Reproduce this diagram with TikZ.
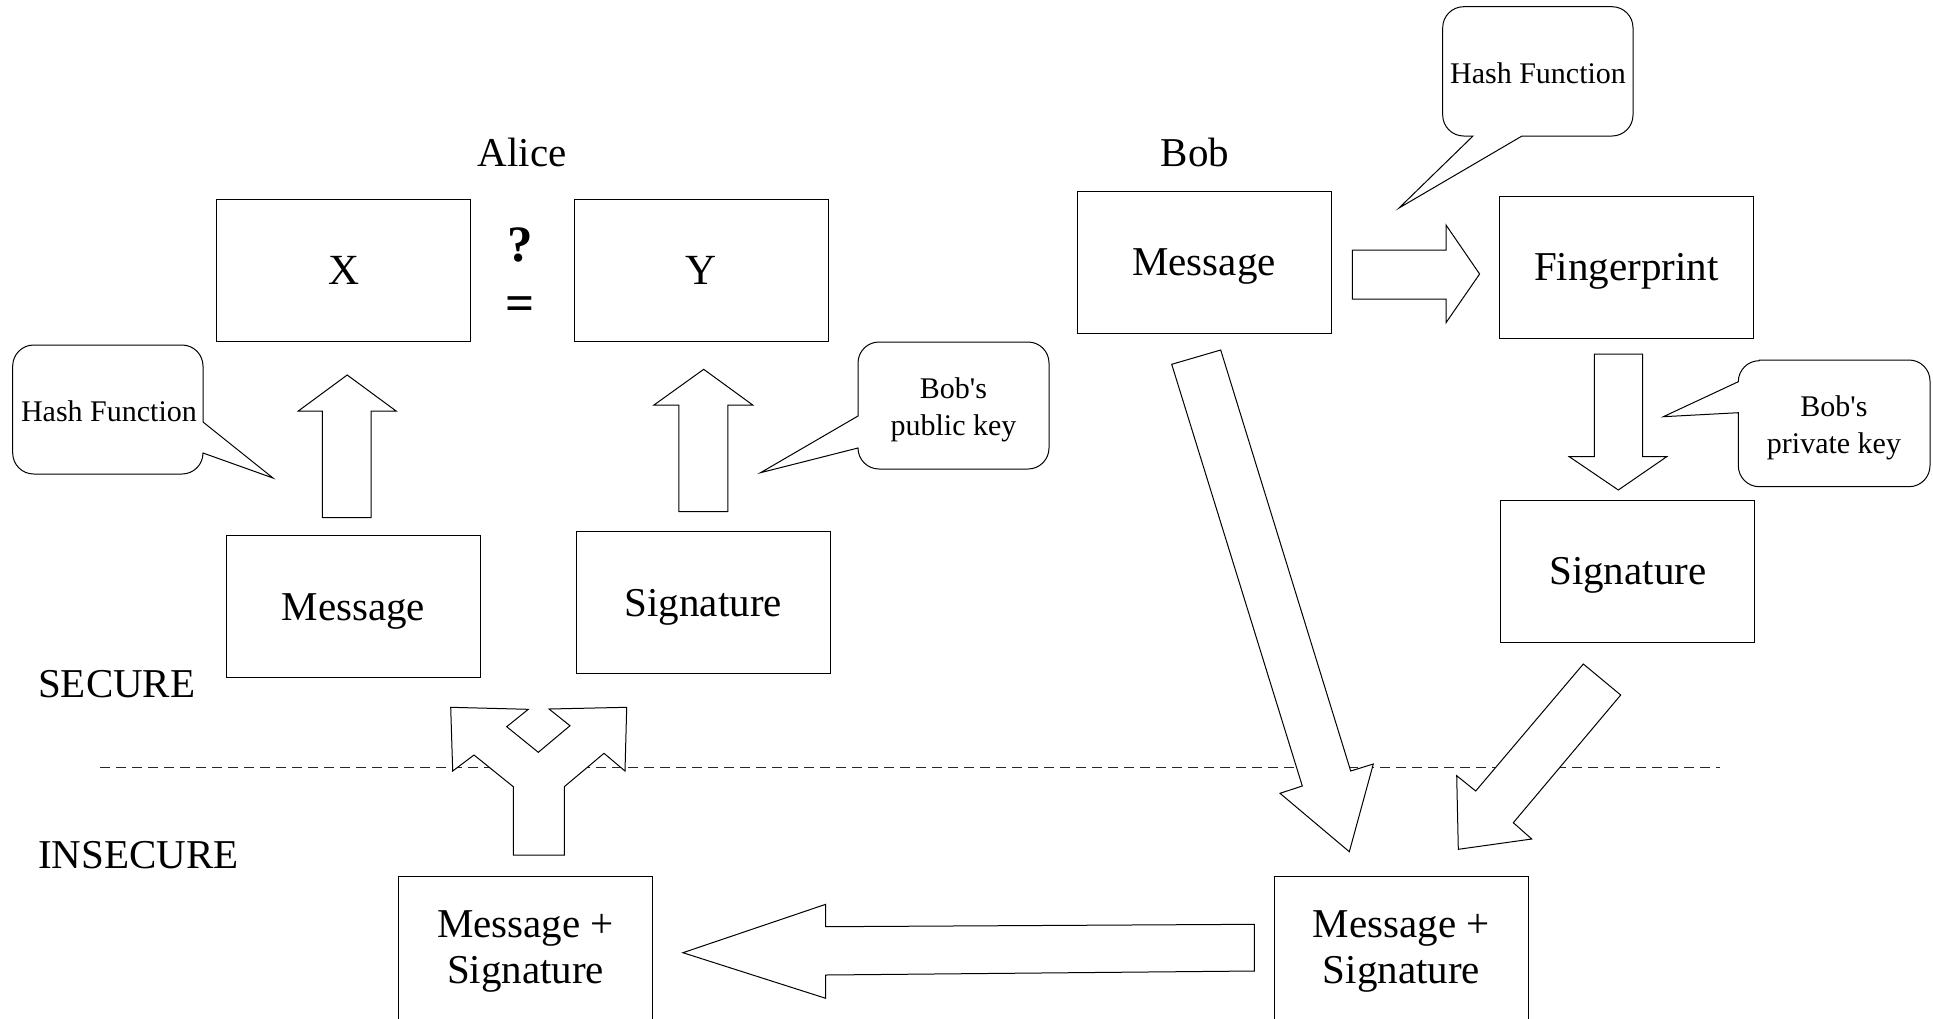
\documentclass[tikz,border=0pt]{standalone}
\usepackage{fontspec}
\newfontfamily\tfont{Liberation Serif}
\newcommand\bigtxt{\tfont\fontsize{41}{46}\selectfont}
\newcommand\xytxt{\tfont\fontsize{43}{48}\selectfont}
\newcommand\smalltxt{\tfont\fontsize{30}{37}\selectfont}
\newcommand\qtxt{\tfont\bfseries\fontsize{51}{56}\selectfont}
\tikzset{
  boxnode/.style={draw=black, line width=1pt, minimum width=254pt, minimum height=142pt, inner sep=0pt, font=\bigtxt, text height=27pt, text depth=0pt},
  boxtwo/.style={draw=black, line width=1pt, minimum width=254pt, minimum height=150pt, inner sep=0pt, font=\bigtxt, align=center},
  lbl/.style={inner sep=0pt, font=\bigtxt, anchor=base},
  blockarrow/.style={draw=black, fill=white, line width=1pt, line join=miter},
  bubble/.style={draw=black, fill=white, line width=1pt, line join=miter},
  btext/.style={inner sep=0pt, font=\smalltxt, align=center, anchor=base},
  divider/.style={draw=black!85, line width=1pt, dash pattern=on 10pt off 6pt},
}
\begin{document}
\begin{tikzpicture}[x=1pt,y=-1pt]
\useasboundingbox (0,0) rectangle (1933,1018);
\clip (0,0) rectangle (1933,1018);

% divider between secure and insecure
\coordinate (dl) at (100,767);
\coordinate (dr) at (1720,767);
\draw[divider] (dl) -- (dr);

% labels
\node[lbl] (alice) at (522,166) {Alice};
\node[lbl] (bob) at (1195,166.7) {Bob};
\node[lbl, anchor=base west] (secure) at (38,697.3) {SECURE};
\node[lbl, anchor=base west] (insecure) at (38,868.3) {INSECURE};
\node[inner sep=0pt, font=\qtxt, anchor=base] (qm) at (520,261.7) {?};
\node[inner sep=0pt, font=\qtxt, anchor=base] (eq) at (520,320) {=};

% Alice side boxes
\node[boxnode, font=\xytxt, text height=28.5pt] (X) at (343.7,270.5) {X};
\node[boxnode, font=\xytxt, text height=28.5pt] (Y) at (701.3,270.5) {Y};
\node[boxnode] (amsg) at (353.4,606.7) {Message};
\node[boxnode] (asig) at (703.3,602.5) {Signature};

% Bob side boxes
\node[boxnode] (bmsg) at (1204,262.2) {Message};
\node[boxnode] (fp) at (1626.4,267.2) {Fingerprint};
\node[boxnode] (bsig) at (1627.8,571.4) {Signature};

% insecure boxes
\node[boxtwo] (ams) at (525.6,951.7) {Message +\\Signature};
\node[boxtwo] (bms) at (1401.4,951.7) {Message +\\Signature};

% block arrows
\draw[blockarrow] (322.3,517.7) -- (322.3,411) -- (298.3,411) -- (347.2,375) -- (396.1,411) -- (371.2,411) -- (371.2,517.7) -- cycle;
\draw[blockarrow] (678.9,511.7) -- (678.9,405) -- (654,405) -- (703.7,369.3) -- (752.7,405) -- (727.8,405) -- (727.8,511.7) -- cycle;
\draw[blockarrow] (1352.4,250) -- (1446,250) -- (1446,225) -- (1479.6,274) -- (1446,322.7) -- (1446,299) -- (1352.4,299) -- cycle;
\draw[blockarrow] (1594.3,354) -- (1642.7,354) -- (1642.7,456.7) -- (1666.7,456.7) -- (1618.3,490) -- (1569.3,456.7) -- (1594.3,456.7) -- cycle;
\draw[blockarrow] (1171.7,364.3) -- (1220.7,350) -- (1350.7,771) -- (1373.3,764) -- (1349.3,851.7) -- (1280,793.3) -- (1302.3,786) -- cycle;
\draw[blockarrow] (1583.3,664) -- (1620.7,695) -- (1513.3,822.7) -- (1531.7,839) -- (1458.3,849.3) -- (1456.7,775.7) -- (1475.7,791) -- cycle;
\draw[blockarrow] (1254.3,924.3) -- (825.7,926.7) -- (825.7,904.3) -- (682.9,952.7) -- (825.7,998.3) -- (825.7,975) -- (1254.3,971) -- cycle;
\draw[blockarrow] (513.3,855) -- (513.3,786.7) -- (474,755) -- (452.7,771) -- (450.7,707.3) -- (528.3,709.3) -- (506.7,726.7) -- (538.3,752.3) -- (570,725.7) -- (549,709) -- (626.7,707.3) -- (625,771) -- (604,753.3) -- (564.3,786.7) -- (564.3,855) -- cycle;

% speech bubbles
\draw[bubble] (33.7,345) -- (182,345) arc[start angle=-90,end angle=0,radius=21] -- (203,422) -- (273,478) -- (203,453) arc[start angle=0,end angle=90,radius=21] -- (33.7,474) arc[start angle=90,end angle=180,radius=21] -- (12.7,366) arc[start angle=180,end angle=270,radius=21] -- cycle;
\node[btext] (hash1) at (109,421.7) {Hash Function};

\draw[bubble] (1463.7,6.7) -- (1612,6.7) arc[start angle=-90,end angle=0,radius=21] -- (1633,115) arc[start angle=0,end angle=90,radius=21] -- (1522,136) -- (1399,208) -- (1473,136) -- (1463.7,136) arc[start angle=90,end angle=180,radius=21] -- (1442.7,27.7) arc[start angle=180,end angle=270,radius=21] -- cycle;
\node[btext] (hash2) at (1538,83.5) {Hash Function};

\draw[bubble] (879,342) -- (1028,342) arc[start angle=-90,end angle=0,radius=21] -- (1049,448) arc[start angle=0,end angle=90,radius=21] -- (879,469) arc[start angle=90,end angle=180,radius=21] -- (760.5,472.7) -- (858,416) -- (858,363) arc[start angle=180,end angle=270,radius=21] -- cycle;
\node[btext] (pubkey) at (953.5,435.5) {Bob's\\public key};

\draw[bubble] (1759.3,360) -- (1909,360) arc[start angle=-90,end angle=0,radius=21] -- (1930,465.7) arc[start angle=0,end angle=90,radius=21] -- (1759.3,486.7) arc[start angle=90,end angle=180,radius=21] -- (1738.3,412.7) -- (1663.3,416.7) -- (1738.3,381.7) arc[start angle=180,end angle=270,radius=21] -- cycle;
\node[btext] (privkey) at (1834,453.3) {Bob's\\private key};
\end{tikzpicture}
\end{document}
